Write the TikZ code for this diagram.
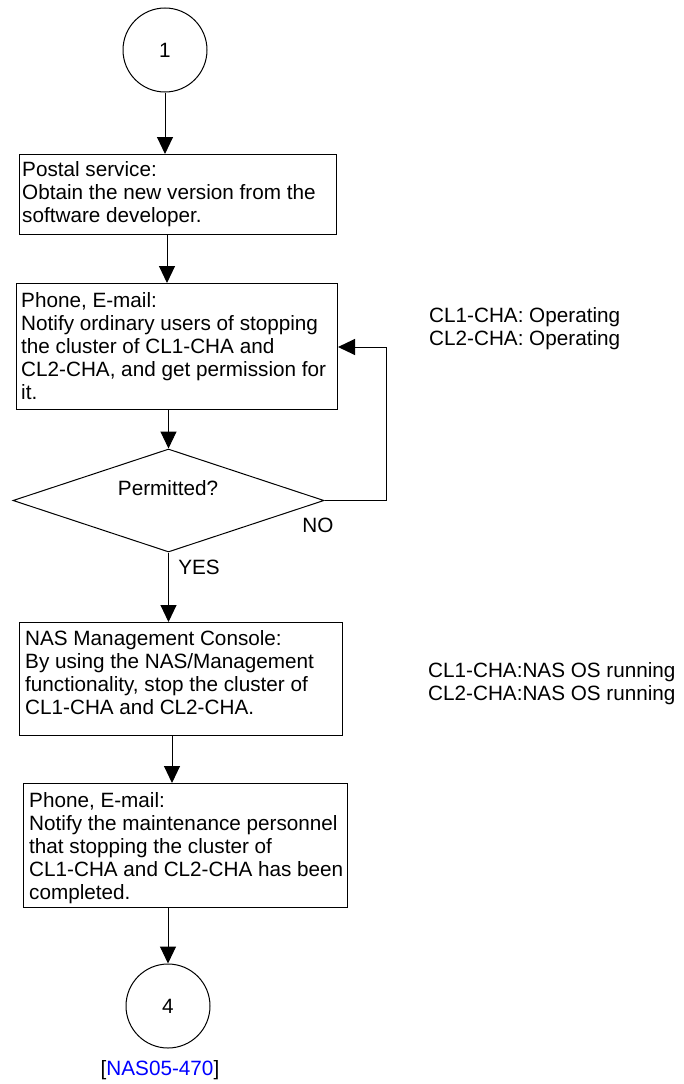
\documentclass[tikz,border=0pt]{standalone}
\usepackage{fontspec}
\setmainfont{Liberation Sans}
\usetikzlibrary{arrows.meta,shapes.geometric}
\begin{document}
\begin{tikzpicture}[x=1pt,y=-1pt,
  every node/.style={font={\fontsize{20.7}{23}\selectfont}},
  ln/.style={line width=1pt},
  arr/.style={ln,-{Triangle[length=17pt,width=16pt]}},
  conn/.style={ln,draw,circle,minimum size=84pt,inner sep=0pt},
  boxnode/.style={ln,draw,rectangle,inner sep=0pt,anchor=north west},
  boxtext/.style={anchor=north west,align=left,inner sep=0pt},
  plain/.style={inner sep=0pt}
]
\useasboundingbox (0,0) rectangle (684,1084);
% connectors
\node[conn] (c1) at (165,50) {1};
\node[conn] (c4) at (168,1006) {4};
\node[plain] (ref) at (160,1070) {[\textcolor{blue}{NAS05-470}]};
% boxes
\node[boxnode,minimum width=317pt,minimum height=80pt] (b1) at (19,154) {};
\node[boxtext] (t1) at ([shift={(3,7)}]b1.north west) {Postal service:\\Obtain the new version from the\\software developer.};
\node[boxnode,minimum width=321pt,minimum height=126pt] (b2) at (16,283) {};
\node[boxtext] (t2) at ([shift={(5,9)}]b2.north west) {Phone, E-mail:\\Notify ordinary users of stopping\\the cluster of CL1-CHA and\\CL2-CHA, and get permission for\\it.};
\node[boxnode,minimum width=323pt,minimum height=113pt] (b3) at (19,622) {};
\node[boxtext] (t3) at ([shift={(6,8)}]b3.north west) {NAS Management Console:\\By using the NAS/Management\\functionality, stop the cluster of\\CL1-CHA and CL2-CHA.};
\node[boxnode,minimum width=324pt,minimum height=124pt] (b4) at (23,783) {};
\node[boxtext] (t4) at ([shift={(6,9)}]b4.north west) {Phone, E-mail:\\Notify the maintenance personnel\\that stopping the cluster of\\CL1-CHA and CL2-CHA has been\\completed.};
% decision
\node[ln,draw,diamond,inner sep=0pt,minimum width=311pt,minimum height=103pt] (d) at (168.5,500.5) {};
\node[plain] (dq) at (168,488) {Permitted?};
\node[plain] (no) at (318,525) {NO};
\node[plain] (yes) at (199,567) {YES};
\coordinate (loop) at (386,347);
% side notes
\node[boxtext,anchor=west] (s1) at (429,329) {CL1-CHA: Operating\\CL2-CHA: Operating};
\node[boxtext,anchor=west] (s2) at (428,684) {CL1-CHA:NAS OS running\\CL2-CHA:NAS OS running};
% arrows
\draw[arr] (c1.south) -- (c1.south |- b1.north);
\draw[arr] (b1.south -| 167,0) -- (b2.north -| 167,0);
\draw[arr] (b2.south -| d.north) -- (d.north);
\draw[arr] (d.south) -- (d.south |- b3.north);
\draw[arr] (b3.south -| 172,0) -- (b4.north -| 172,0);
\draw[arr] (b4.south -| c4.north) -- (c4.north);
\draw[arr] (d.east) -| (loop) -- (loop -| b2.east);
\end{tikzpicture}
\end{document}
